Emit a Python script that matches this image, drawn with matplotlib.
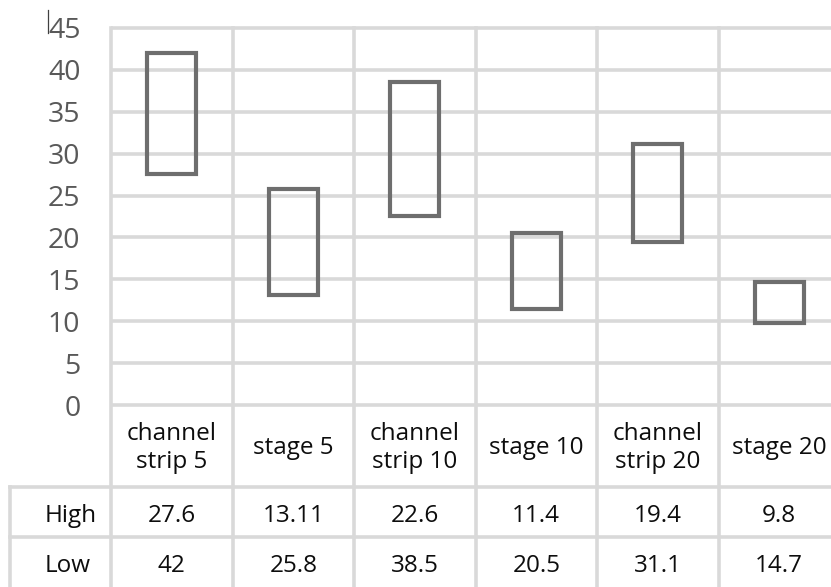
import matplotlib
matplotlib.use("Agg")
import matplotlib.pyplot as plt
from matplotlib.lines import Line2D
import matplotlib.transforms as mtransforms

plt.rcParams["font.family"] = ["Open Sans", "DejaVu Sans"]

categories = ["channel\nstrip 5", "stage 5", "channel\nstrip 10", "stage 10", "channel\nstrip 20", "stage 20"]
high = [27.6, 13.11, 22.6, 11.4, 19.4, 9.8]
low = [42, 25.8, 38.5, 20.5, 31.1, 14.7]
high_labels = ["27.6", "13.11", "22.6", "11.4", "19.4", "9.8"]
low_labels = ["42", "25.8", "38.5", "20.5", "31.1", "14.7"]
yticks = list(range(0, 50, 5))

grid_c = "#d9d9d9"
box_c = "#6e6e6e"
txt_c = "#0d0d0d"

W, H = 831, 587
fig = plt.figure(figsize=(W / 100, H / 100), dpi=100)
ax = fig.add_axes([111 / W, 182 / H, (840 - 111) / W, 377 / H])
n = len(categories)
ax.set_xlim(0, n)
ax.set_ylim(0, 45)
for s in ax.spines.values():
    s.set_visible(False)
ax.set_xticks([])
ax.set_yticks(yticks)
ax.tick_params(axis="y", length=0, pad=22, labelsize=20.5, labelcolor="#595959")

# horizontal gridlines
ax.hlines(yticks, 0, n, colors=grid_c, lw=2.6, clip_on=False, zorder=0)

# floating boxes between the two series
x = [i + 0.5 for i in range(n)]
heights = [l - h for h, l in zip(high, low)]
ax.bar(x, heights, bottom=high, width=0.4, fill=False, edgecolor=box_c, lw=3, zorder=3)

# data table under the plot
tr = mtransforms.blended_transform_factory(ax.transData, ax.transAxes)
row1 = -82 / 377
row2 = -132 / 377
bottom = -0.6
left = (10 - 111) / 121.5
for i in range(n + 1):
    ax.plot([i, i], [1, bottom], color=grid_c, lw=2.6, transform=tr, clip_on=False, zorder=0)
ax.plot([left, left], [row1, bottom], color=grid_c, lw=2.6, transform=tr, clip_on=False)
for yy in (row1, row2):
    ax.plot([left, n], [yy, yy], color=grid_c, lw=2.6, transform=tr, clip_on=False)

fs = 17.5
for i, cat in enumerate(categories):
    ax.text(i + 0.5, -43 / 377, cat, transform=tr, ha="center", va="center",
            fontsize=fs, color=txt_c, linespacing=1.25)
    ax.text(i + 0.5, -111 / 377, high_labels[i], transform=tr, ha="center", va="center",
            fontsize=fs, color=txt_c)
    ax.text(i + 0.5, -161 / 377, low_labels[i], transform=tr, ha="center", va="center",
            fontsize=fs, color=txt_c)

hx = (45 - 111) / 121.5
ax.text(hx, -111 / 377, "High", transform=tr, ha="left", va="center", fontsize=fs, color=txt_c)
ax.text(hx, -161 / 377, "Low", transform=tr, ha="left", va="center", fontsize=fs, color=txt_c)

# small cursor mark near top-left
fig.add_artist(Line2D([48 / W, 48 / W], [1 - 10 / H, 1 - 33 / H], color="#404040", lw=0.9))

fig.savefig("out.png", dpi=100)
